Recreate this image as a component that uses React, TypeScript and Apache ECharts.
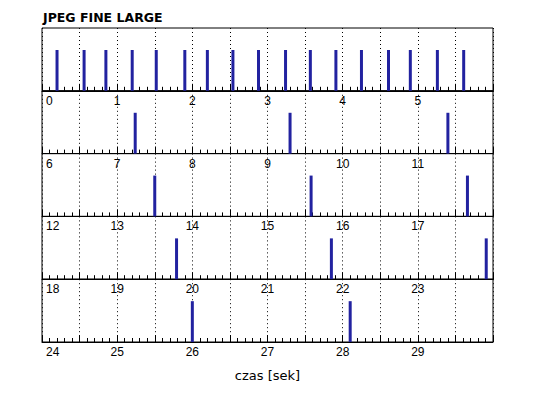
import React, { useEffect, useRef } from "react";
import * as echarts from "echarts";

const titleText = "JPEG FINE LARGE";
const axisName = "czas [sek]";
const panelStarts = [0, 6, 12, 18, 24];
const panelSpan = 6;
const eventTimes = [
  0.2, 0.56, 0.85, 1.2, 1.52, 1.9, 2.2, 2.54, 2.88, 3.24, 3.57, 3.91, 4.25, 4.61, 4.9, 5.26, 5.61,
  7.24, 9.3, 11.4,
  13.5, 15.58, 17.66,
  19.79, 21.85, 23.91,
  26.0, 28.1,
];
const eventLevel = 0.65;

export default function App() {
  const ref = useRef<HTMLDivElement>(null);
  useEffect(() => {
    if (!ref.current) return;
    const chart = echarts.init(ref.current, null, { renderer: "svg" });
    const top0 = 28;
    const h = 62.8;
    const grids = panelStarts.map((_, i) => ({
      left: 42,
      right: 45,
      top: top0 + i * h,
      height: h,
      show: true,
      borderColor: "#000",
      borderWidth: 1,
      backgroundColor: "transparent",
    }));
    const last = panelStarts.length - 1;
    const xAxes = panelStarts.map((s, i) => ({
      type: "value",
      gridIndex: i,
      min: s,
      max: s + panelSpan,
      interval: 0.5,
      axisLine: { show: true, lineStyle: { color: "#000", width: 1 } },
      axisTick: { show: true, inside: true, length: 7, lineStyle: { color: "#000" } },
      minorTick: { show: true, splitNumber: 5, length: 4, lineStyle: { color: "#000" } },
      splitLine: { show: true, lineStyle: { color: "#000", type: [1, 3], width: 1 } },
      axisLabel: {
        show: true,
        margin: 4,
        color: "#000",
        fontFamily: "Liberation Sans",
        fontSize: 12,
        showMaxLabel: false,
        alignMinLabel: "left",
        rich: {
          first: { padding: [0, 0, 0, 4], fontFamily: "Liberation Sans", fontSize: 12, color: "#000" },
        },
        formatter: (v: number) => {
          const isInt = Math.abs(v - Math.round(v)) < 1e-6;
          if (!isInt || v >= s + panelSpan) return "";
          const txt = String(Math.round(v));
          return v === s ? "{first|" + txt + "}" : txt;
        },
      },
      name: i === last ? axisName : "",
      nameLocation: "middle",
      nameGap: 27,
      nameTextStyle: { color: "#000", fontFamily: "DejaVu Sans", fontSize: 13 },
    }));
    const yAxes = panelStarts.map((_, i) => ({
      type: "value",
      gridIndex: i,
      min: 0,
      max: 1,
      show: false,
      splitLine: { show: false },
    }));
    const series = panelStarts.map((s, i) => ({
      type: "bar",
      xAxisIndex: i,
      yAxisIndex: i,
      barWidth: 3,
      itemStyle: { color: "#2222a0" },
      data: eventTimes.filter((t) => t >= s && t < s + panelSpan).map((t) => [t, eventLevel]),
    }));
    chart.setOption({
      animation: false,
      backgroundColor: "#fff",
      title: {
        text: titleText,
        left: 43,
        top: 11,
        padding: 0,
        textStyle: { fontFamily: "DejaVu Sans", fontWeight: "bold", fontSize: 12.5, color: "#000" },
      },
      grid: grids,
      xAxis: xAxes,
      yAxis: yAxes,
      series,
    });
    return () => chart.dispose();
  }, []);
  return (
    <div
      ref={ref}
      style={{ position: "fixed", left: 0, top: 0, width: 538, height: 398 }}
    />
  );
}
